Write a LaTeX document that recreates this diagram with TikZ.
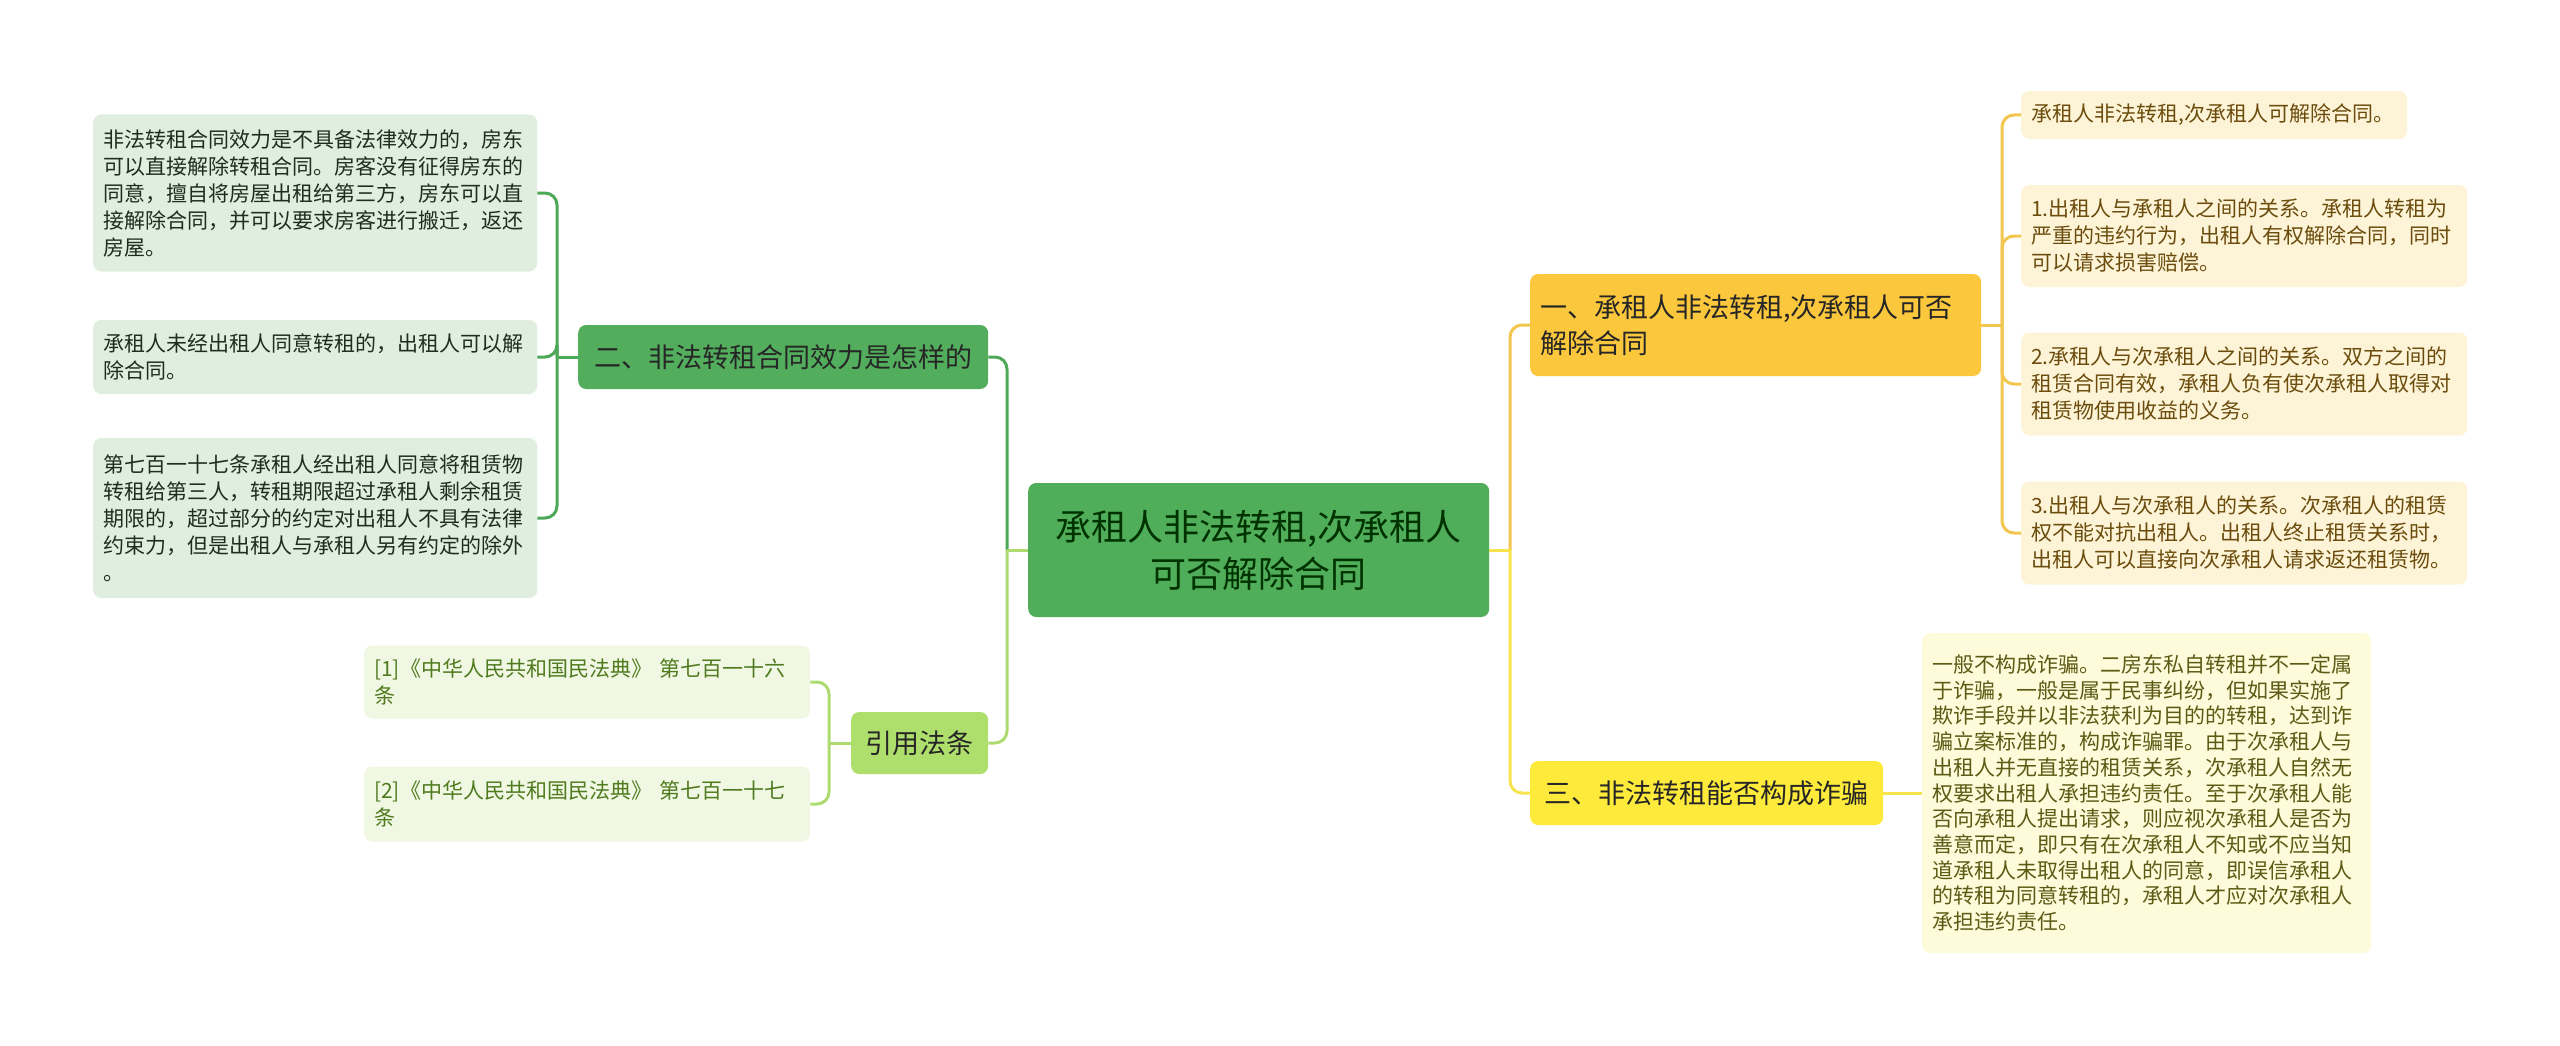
\documentclass[tikz,border=0pt]{standalone}
\usepackage{fontspec}
\setmainfont{Noto Sans CJK SC}

\definecolor{rootfill}{HTML}{50AE5A}
\definecolor{erfill}{HTML}{52AE5C}
\definecolor{erline}{HTML}{4DA958}
\definecolor{lfill}{HTML}{DFEEDF}
\definecolor{ltext}{HTML}{1E2E1E}
\definecolor{yinfill}{HTML}{AEDE6C}
\definecolor{yinline}{HTML}{AEDB70}
\definecolor{reffill}{HTML}{F0F8E3}
\definecolor{reftext}{HTML}{4F7A1E}
\definecolor{yifill}{HTML}{FBC73C}
\definecolor{yiline}{HTML}{F3C650}
\definecolor{rfill}{HTML}{FDF4D8}
\definecolor{rtext}{HTML}{6B4C0C}
\definecolor{sanfill}{HTML}{FDEA3B}
\definecolor{sanline}{HTML}{F6E34E}
\definecolor{refill}{HTML}{FEFBDA}
\definecolor{retext}{HTML}{5C5A14}

\begin{document}
\begin{tikzpicture}[x=1pt,y=-1pt,
    box/.style={rounded corners=8pt, anchor=west, inner xsep=10pt, inner ysep=0pt},
    leaf/.style={box, align=left, font=\fontsize{21}{27}\selectfont},
    topic/.style={box, align=center, font=\fontsize{27}{36}\selectfont, text=black!85},
    link/.style={line width=3pt, rounded corners=12pt}]

    \useasboundingbox (0,0) rectangle (2560,1046);

    % centre
    \node[topic, fill=rootfill, text=black!80!green, text width=441pt, minimum height=134pt,
          font=\fontsize{36}{47}\selectfont] (root) at (1028,550) {承租人非法转租,次承租人\\可否解除合同};

    % left side
    \node[topic, fill=erfill, text width=390pt, minimum height=64pt] (er) at (578,357) {二、非法转租合同效力是怎样的};
    \node[topic, fill=yinfill, text width=117pt, minimum height=62pt] (yin) at (851,743) {引用法条};

    \node[leaf, fill=lfill, text=ltext, text width=424pt, minimum height=157pt] (l1) at (93,193) {非法转租合同效力是不具备法律效力的，房东\\可以直接解除转租合同。房客没有征得房东的\\同意，擅自将房屋出租给第三方，房东可以直\\接解除合同，并可以要求房客进行搬迁，返还\\房屋。};
    \node[leaf, fill=lfill, text=ltext, text width=424pt, minimum height=74pt] (l2) at (93,357) {承租人未经出租人同意转租的，出租人可以解\\除合同。};
    \node[leaf, fill=lfill, text=ltext, text width=424pt, minimum height=160pt] (l3) at (93,518) {第七百一十七条承租人经出租人同意将租赁物\\转租给第三人，转租期限超过承租人剩余租赁\\期限的，超过部分的约定对出租人不具有法律\\约束力，但是出租人与承租人另有约定的除外\\。};

    \node[leaf, fill=reffill, text=reftext, text width=426pt, minimum height=73pt] (ref1) at (364,682) {[1]《中华人民共和国民法典》 第七百一十六\\条};
    \node[leaf, fill=reffill, text=reftext, text width=426pt, minimum height=75pt] (ref2) at (364,804) {[2]《中华人民共和国民法典》 第七百一十七\\条};

    % right side
    \node[topic, fill=yifill, align=left, text width=431pt, minimum height=102pt] (yi) at (1530,325) {一、承租人非法转租,次承租人可否\\解除合同};
    \node[topic, fill=sanfill, text width=333pt, minimum height=64pt] (san) at (1530,793) {三、非法转租能否构成诈骗};

    \node[leaf, fill=rfill, text=rtext, text width=366pt, minimum height=48pt] (ra) at (2021,115) {承租人非法转租,次承租人可解除合同。};
    \node[leaf, fill=rfill, text=rtext, text width=426pt, minimum height=102pt] (rb) at (2021,236) {1.出租人与承租人之间的关系。承租人转租为\\严重的违约行为，出租人有权解除合同，同时\\可以请求损害赔偿。};
    \node[leaf, fill=rfill, text=rtext, text width=426pt, minimum height=103pt] (rc) at (2021,384) {2.承租人与次承租人之间的关系。双方之间的\\租赁合同有效，承租人负有使次承租人取得对\\租赁物使用收益的义务。};
    \node[leaf, fill=rfill, text=rtext, text width=426pt, minimum height=103pt] (rd) at (2021,533) {3.出租人与次承租人的关系。次承租人的租赁\\权不能对抗出租人。出租人终止租赁关系时，\\出租人可以直接向次承租人请求返还租赁物。};
    \node[leaf, fill=refill, text=retext, text width=429pt, minimum height=320pt,
          font=\fontsize{21}{25.7}\selectfont] (re) at (1922,793) {一般不构成诈骗。二房东私自转租并不一定属\\于诈骗，一般是属于民事纠纷，但如果实施了\\欺诈手段并以非法获利为目的的转租，达到诈\\骗立案标准的，构成诈骗罪。由于次承租人与\\出租人并无直接的租赁关系，次承租人自然无\\权要求出租人承担违约责任。至于次承租人能\\否向承租人提出请求，则应视次承租人是否为\\善意而定，即只有在次承租人不知或不应当知\\道承租人未取得出租人的同意，即误信承租人\\的转租为同意转租的，承租人才应对次承租人\\承担违约责任。};

    % connectors
    \coordinate (jl) at (1007,550);
    \coordinate (jr) at (1510,550);
    \coordinate (je) at (557,357);
    \coordinate (jy) at (829,743);
    \coordinate (jo) at (2002,325);

    \draw[link, erline] (jl) |- (er.east);
    \draw[link, yinline] (jl) |- (yin.east);
    \draw[link, yinline] (root.west) -- (jl);

    \draw[link, erline] (er.west) -- (je);
    \draw[link, erline] (je) |- (l1.east);
    \draw[link, erline] (je) |- (l2.east);
    \draw[link, erline] (je) |- (l3.east);

    \draw[link, yinline] (yin.west) -- (jy);
    \draw[link, yinline] (jy) |- (ref1.east);
    \draw[link, yinline] (jy) |- (ref2.east);

    \draw[link, yiline] (jr) |- (yi.west);
    \draw[link, sanline] (jr) |- (san.west);
    \draw[link, sanline] (root.east) -- (jr);

    \draw[link, yiline] (yi.east) -- (jo);
    \draw[link, yiline] (jo) |- (ra.west);
    \draw[link, yiline] (jo) |- (rb.west);
    \draw[link, yiline] (jo) |- (rc.west);
    \draw[link, yiline] (jo) |- (rd.west);

    \draw[link, sanline] (san.east) -- (re.west);

\end{tikzpicture}
\end{document}
